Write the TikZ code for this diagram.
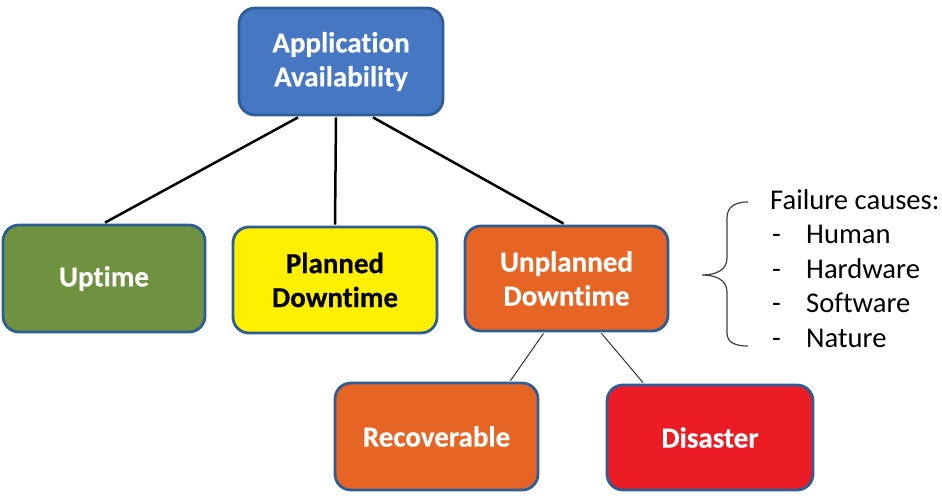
\documentclass[tikz,border=0pt]{standalone}
\usepackage{fontspec}
\setmainfont[Ligatures=NoCommon]{Carlito}
\newfontfamily\boxfont[FakeBold=0.4,Ligatures=NoCommon]{Carlito Bold}
\definecolor{bluefill}{HTML}{4677C3}
\definecolor{greenfill}{HTML}{6F9240}
\definecolor{yellowfill}{HTML}{FFF000}
\definecolor{orangefill}{HTML}{E66525}
\definecolor{redfill}{HTML}{EC1C24}
\definecolor{boxborder}{HTML}{2E5C96}
\definecolor{bracegray}{HTML}{404040}
\begin{document}
\begin{tikzpicture}[x=1pt,y=-1pt,
  box/.style={draw=boxborder,line width=2.8pt,rounded corners=16pt,align=center,
    font=\boxfont\fontsize{29}{34}\selectfont,inner sep=0pt},
  thick link/.style={line width=2.5pt,black},
  thin link/.style={line width=1pt,black!80},
  side/.style={anchor=base west,inner sep=0pt,font=\fontsize{28.6}{34}\selectfont}]
\useasboundingbox (0,0) rectangle (942,500);
\node[box,fill=bluefill,text=white,minimum width=204pt,minimum height=107pt] (top) at (341,61.5) {Application\\Availability};
\node[box,fill=greenfill,text=white,minimum width=202pt,minimum height=107pt] (uptime) at (104,278.5) {Uptime};
\node[box,fill=yellowfill,text=black,minimum width=204pt,minimum height=106pt] (planned) at (335,280) {Planned\\Downtime};
\node[box,fill=orangefill,text=white,minimum width=203pt,minimum height=105pt] (unplanned) at (566.5,278.5) {Unplanned\\Downtime};
\node[box,fill=orangefill,text=white,minimum width=203pt,minimum height=107pt] (recov) at (436.5,436.5) {Recoverable};
\node[box,fill=redfill,text=white,minimum width=206pt,minimum height=105pt] (disaster) at (710,437.5) {Disaster};

\draw[thick link] ([xshift=-43pt,yshift=-1pt]top.south) -- ([xshift=1pt,yshift=1pt]uptime.north);
\draw[thick link] ([xshift=-5pt,yshift=-1pt]top.south) -- ([yshift=1pt]planned.north);
\draw[thick link] ([xshift=32pt,yshift=-1pt]top.south) -- ([xshift=-3pt,yshift=1pt]unplanned.north);
\draw[thin link] ([xshift=-23pt,yshift=-1pt]unplanned.south) -- ([xshift=74pt,yshift=1pt]recov.north);
\draw[thin link] ([xshift=35pt,yshift=-1pt]unplanned.south) -- ([xshift=-67pt,yshift=1pt]disaster.north);

\draw[bracegray,line width=1.2pt] (748,202) .. controls (736,202) and (727,206) .. (727,218) -- (727,258) .. controls (727,270) and (716,275) .. (702,275) .. controls (716,275) and (727,280) .. (727,292) -- (727,333) .. controls (727,343) and (736,346) .. (748,346);

\node[side] (head) at (770,209) {Failure causes:};
\node[side] (d1) at (772,243.5) {-};
\node[side] (t1) at (806,243.5) {Human};
\node[side] (d2) at (772,278) {-};
\node[side] (t2) at (806,278) {Hardware};
\node[side] (d3) at (772,312.5) {-};
\node[side] (t3) at (806,312.5) {Software};
\node[side] (d4) at (772,347) {-};
\node[side] (t4) at (806,347) {Nature};
\end{tikzpicture}
\end{document}
